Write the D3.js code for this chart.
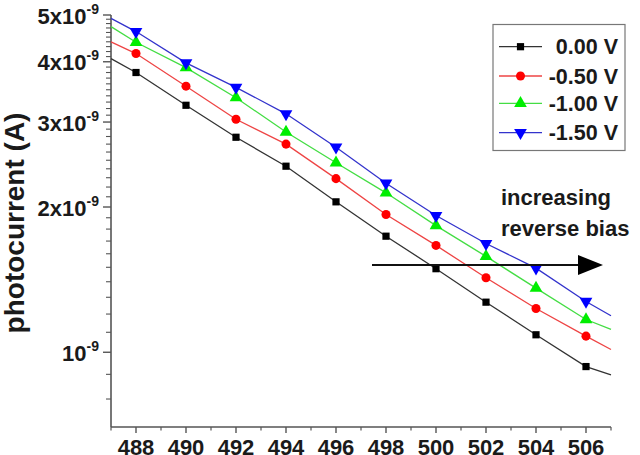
<!DOCTYPE html>
<html>
<head>
<meta charset="utf-8">
<script src="https://cdn.jsdelivr.net/npm/d3@7"></script>
<style>
  html, body { margin: 0; padding: 0; background: #fff; }
  svg { display: block; font-family: "Liberation Sans", Arial, sans-serif; }
</style>
</head>
<body>
<svg id="chart" width="640" height="455"></svg>
<script>
// ---- data (photocurrent in units of 1e-9 A) ----
const wavelengths = [487, 488, 490, 492, 494, 496, 498, 500, 502, 504, 506, 507];
const bias0   = [4.06, 3.80, 3.25, 2.79, 2.43, 2.05, 1.74, 1.49, 1.27, 1.087, 0.934, 0.898];
const bias050 = [4.40, 4.16, 3.56, 3.04, 2.70, 2.29, 1.93, 1.665, 1.427, 1.232, 1.08, 1.013];
const bias100 = [4.73, 4.39, 3.89, 3.37, 2.86, 2.47, 2.14, 1.83, 1.58, 1.358, 1.169, 1.115];
const bias150 = [4.92, 4.62, 3.98, 3.54, 3.12, 2.66, 2.24, 1.92, 1.68, 1.494, 1.274, 1.19];
const seriesNames = ["0.00 V", "-0.50 V", "-1.00 V", "-1.50 V"];
const xTicks = [488, 490, 492, 494, 496, 498, 500, 502, 504, 506];
const xMinorTicks = [487, 489, 491, 493, 495, 497, 499, 501, 503, 505, 507];
const yMajorTicks = [1, 2, 3, 4, 5];
const yMinorTicks = [0.8, 0.9, 1.1, 1.2, 1.3, 1.4, 1.5, 1.6, 1.7, 1.8, 1.9,
  2.1, 2.2, 2.3, 2.4, 2.5, 2.6, 2.7, 2.8, 2.9, 3.1, 3.2, 3.3, 3.4, 3.5, 3.6, 3.7, 3.8, 3.9,
  4.1, 4.2, 4.3, 4.4, 4.5, 4.6, 4.7, 4.8, 4.9];
const annotation = ["increasing", "reverse bias"];

const seriesData = [bias0, bias050, bias100, bias150];
const lineColors = ["#333333", "#ee4444", "#44dd44", "#3333cc"];
const markColors = ["#000000", "#ff0000", "#00ee00", "#0000ff"];
const markShapes = [d3.symbolSquare, d3.symbolCircle, d3.symbolTriangle, d3.symbolTriangle];
const markSizes = [52, 64, 70, 70];

const svg = d3.select("#chart");
const x = d3.scaleLinear().domain([487, 507]).range([111, 611]);
const y = d3.scaleLog().domain([0.7, 5]).range([427, 15]);
const axisColor = "#555";
const textColor = "#1a1a1a";

// ---- axes ----
const xAxis = svg.append("g").attr("transform", "translate(0,427)");
xAxis.append("line").attr("x1", x(487)).attr("x2", x(507)).attr("stroke", axisColor).attr("stroke-width", 1.6);
xAxis.selectAll(".xmaj").data(xTicks).enter().append("line")
  .attr("x1", d => x(d)).attr("x2", d => x(d)).attr("y1", 0).attr("y2", 6)
  .attr("stroke", axisColor).attr("stroke-width", 1.4);
xAxis.selectAll(".xmin").data(xMinorTicks).enter().append("line")
  .attr("x1", d => x(d)).attr("x2", d => x(d)).attr("y1", 0).attr("y2", 3.5)
  .attr("stroke", axisColor).attr("stroke-width", 1.2);
xAxis.selectAll(".xlab").data(xTicks).enter().append("text")
  .attr("x", d => x(d)).attr("y", 27.5).attr("text-anchor", "middle")
  .attr("font-size", 22).attr("font-weight", "bold").attr("fill", textColor)
  .text(d => d);

const yAxis = svg.append("g");
yAxis.append("line").attr("x1", 111).attr("x2", 111).attr("y1", y(5)).attr("y2", y(0.7))
  .attr("stroke", axisColor).attr("stroke-width", 1.6);
yAxis.selectAll(".ymaj").data(yMajorTicks).enter().append("line")
  .attr("x1", 103).attr("x2", 111).attr("y1", d => y(d)).attr("y2", d => y(d))
  .attr("stroke", axisColor).attr("stroke-width", 1.4);
yAxis.selectAll(".ymin").data(yMinorTicks).enter().append("line")
  .attr("x1", 106).attr("x2", 111).attr("y1", d => y(d)).attr("y2", d => y(d))
  .attr("stroke", axisColor).attr("stroke-width", 1.1);
const ylab = yAxis.selectAll(".ylab").data(yMajorTicks).enter().append("text")
  .attr("x", 99).attr("y", d => y(d) + 8.5).attr("text-anchor", "end")
  .attr("font-size", 22).attr("font-weight", "bold").attr("fill", textColor);
ylab.append("tspan").text(d => d === 1 ? "10" : d + "x10");
ylab.append("tspan").attr("dy", -10).attr("font-size", 14).text("-9");

svg.append("text")
  .attr("transform", "translate(24,223) rotate(-90)")
  .attr("text-anchor", "middle").attr("font-size", 28).attr("font-weight", "bold").attr("fill", textColor)
  .text("photocurrent (A)");

// ---- series ----
const line = d3.line().x((d, i) => x(wavelengths[i])).y(d => y(d));
seriesData.forEach((vals, s) => {
  svg.append("path").datum(vals).attr("d", line)
    .attr("fill", "none").attr("stroke", lineColors[s]).attr("stroke-width", 1.3);
  const pts = vals.map((v, i) => ({ w: wavelengths[i], v })).filter(p => p.w % 2 === 0);
  svg.selectAll(".m" + s).data(pts).enter().append("path")
    .attr("d", d3.symbol().type(markShapes[s]).size(markSizes[s]))
    .attr("transform", d => `translate(${x(d.w)},${y(d.v)})` + (s === 3 ? " rotate(180)" : ""))
    .attr("fill", markColors[s]);
});

// ---- legend ----
const lg = svg.append("g");
lg.append("rect").attr("x", 493).attr("y", 24.5).attr("width", 132).attr("height", 126)
  .attr("fill", "#fff").attr("stroke", "#777").attr("stroke-width", 1.2);
const rowY = [46.7, 76, 103.3, 132.7];
seriesNames.forEach((name, s) => {
  const ry = rowY[s];
  lg.append("line").attr("x1", 499).attr("x2", 542).attr("y1", ry).attr("y2", ry)
    .attr("stroke", lineColors[s]).attr("stroke-width", 1.3);
  lg.append("path").attr("d", d3.symbol().type(markShapes[s]).size(markSizes[s]))
    .attr("transform", `translate(520.5,${ry})` + (s === 3 ? " rotate(180)" : ""))
    .attr("fill", markColors[s]);
  lg.append("text").attr("x", 618).attr("y", ry + 7.5).attr("text-anchor", "end")
    .attr("font-size", 21.5).attr("font-weight", "bold").attr("fill", textColor).text(name);
});

// ---- annotation ----
svg.selectAll(".ann").data(annotation).enter().append("text")
  .attr("x", 501).attr("y", (d, i) => 205 + i * 31)
  .attr("font-size", 22).attr("font-weight", "bold").attr("fill", textColor).text(d => d);
svg.append("line").attr("x1", 372).attr("x2", 582).attr("y1", 265).attr("y2", 265)
  .attr("stroke", "#111").attr("stroke-width", 2);
svg.append("path").attr("d", "M578,255 L603,265 L578,275 Z").attr("fill", "#000");
</script>
</body>
</html>
